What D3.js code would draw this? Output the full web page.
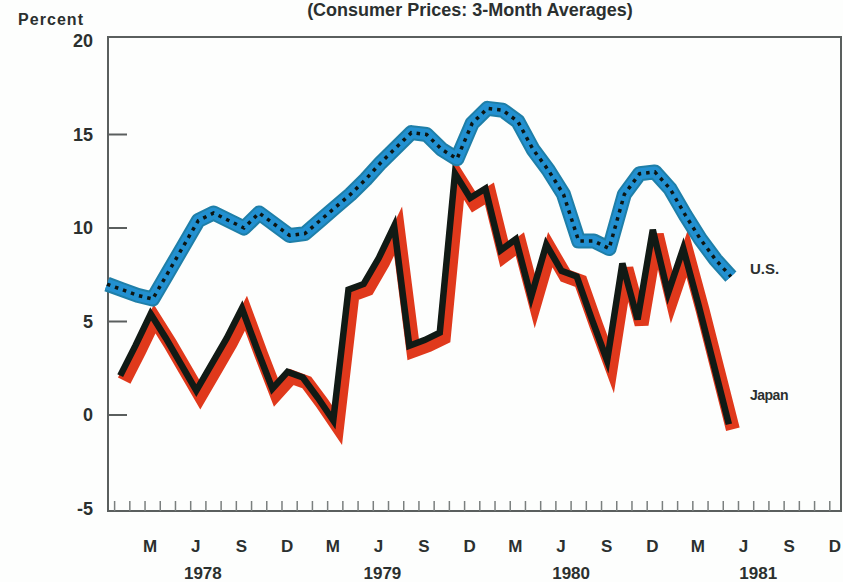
<!DOCTYPE html>
<html>
<head>
<meta charset="utf-8">
<script src="https://cdn.jsdelivr.net/npm/d3@7"></script>
<style>
  body { margin: 0; background: #fdfefd; }
  text { font-family: "Liberation Sans", Arial, sans-serif; font-weight: bold; fill: #2b302f; }
</style>
</head>
<body>
<div id="chart"></div>
<script>
// month index 0 = Dec 1977, monthly points
var usValues = [7.0, 6.7, 6.4, 6.2, 7.6, 9.0, 10.4, 10.8, 10.4, 10.0, 10.8, 10.2, 9.6, 9.7,
                10.4, 11.1, 11.8, 12.6, 13.5, 14.3, 15.1, 15.0, 14.2, 13.7, 15.6, 16.4, 16.3,
                15.7, 14.2, 13.1, 11.8, 9.3, 9.3, 8.9, 11.8, 12.9, 13.0, 12.1, 10.7, 9.4, 8.3, 7.4];
var usStart = 0;
// Japan starts Jan 1978 (index 1)
var japanValues = [2.0, 3.6, 5.3, 4.0, 2.6, 1.2, 2.6, 4.0, 5.6, 3.4, 1.3, 2.2, 1.9, 0.8, -0.4,
                   6.6, 6.9, 8.3, 10.0, 3.6, 3.9, 4.3, 12.8, 11.5, 12.0, 8.7, 9.3, 6.2, 9.0, 7.6,
                   7.3, 5.0, 2.8, 8.0, 5.0, 9.8, 6.4, 8.8, 5.8, 2.6, -0.6];
var japanStart = 1;

var monthLabels = ["M", "J", "S", "D"];
var yearLabels = ["1978", "1979", "1980", "1981"];
var yTicks = [20, 15, 10, 5, 0, -5];

var w = 843, h = 582;
var svg = d3.select("#chart").append("svg")
            .attr("width", w)
            .attr("height", h);

var x = d3.scaleLinear().domain([0, 48.5]).range([107, 845]);
var y = d3.scaleLinear().domain([-5, 20]).range([508.5, 41]);

// title, right at the top edge like the scan
svg.append("text")
   .attr("x", 470).attr("y", 16)
   .attr("text-anchor", "middle")
   .style("font-size", "18px")
   .text("(Consumer Prices: 3-Month Averages)");

svg.append("text")
   .attr("x", 18).attr("y", 25)
   .style("font-size", "16px")
   .attr("textLength", 65)
   .text("Percent");

// frame
var fLeft = 108, fRight = 841, fTop = 37, fBottom = 511;
svg.append("path")
   .attr("d", "M" + fLeft + "," + fBottom + "V" + fTop + "H" + fRight + "V" + fBottom + "Z")
   .attr("fill", "none")
   .attr("stroke", "#5a5f5e")
   .attr("stroke-width", 2);

// y tick labels + inward ticks
svg.selectAll("text.ylab")
   .data(yTicks)
   .enter().append("text")
   .attr("class", "ylab")
   .attr("x", 93)
   .attr("y", function(d) { return y(d); })
   .attr("dy", "0.35em")
   .attr("text-anchor", "end")
   .style("font-size", "18px")
   .text(function(d) { return d < 0 ? "-" + Math.abs(d) : d; });

svg.selectAll("line.ytick")
   .data(yTicks.filter(function(d) { return d > -5 && d < 20; }))
   .enter().append("line")
   .attr("class", "ytick")
   .attr("x1", fLeft).attr("x2", fLeft + 19)
   .attr("y1", function(d) { return y(d); })
   .attr("y2", function(d) { return y(d); })
   .attr("stroke", "#5a5f5e")
   .attr("stroke-width", 2);

// monthly ticks on the bottom
svg.selectAll("line.xtick")
   .data(d3.range(0.5, 48.5, 1))
   .enter().append("line")
   .attr("class", "xtick")
   .attr("x1", function(d) { return x(d); })
   .attr("x2", function(d) { return x(d); })
   .attr("y1", fBottom).attr("y2", fBottom - 10)
   .attr("stroke", "#7a7f7e")
   .attr("stroke-width", 1.5);

// quarter month letters, first at index 3 (Mar 1978)
svg.selectAll("text.mlab")
   .data(d3.range(3, 49, 3))
   .enter().append("text")
   .attr("class", "mlab")
   .attr("x", function(d) { return x(d) - 2.5; })
   .attr("y", 552)
   .attr("text-anchor", "middle")
   .style("font-size", "17px")
   .text(function(d, i) { return monthLabels[i % 4]; });

var yearPos = [6.3, 18.1, 30.5, 42.8];
svg.selectAll("text.year")
   .data(yearLabels)
   .enter().append("text")
   .attr("class", "year")
   .attr("x", function(d, i) { return x(yearPos[i]); })
   .attr("y", 579)
   .attr("text-anchor", "middle")
   .style("font-size", "17px")
   .text(function(d) { return d; });

var line = d3.line()
             .x(function(d) { return x(d.k); })
             .y(function(d) { return y(d.v); });

var us = usValues.map(function(v, i) { return {k: usStart + i, v: v}; });
var jp = japanValues.map(function(v, i) { return {k: japanStart + i, v: v}; });

// Japan: red band with misregistered black core
svg.append("path")
   .datum(jp)
   .attr("d", line)
   .attr("transform", "translate(2,3)")
   .attr("fill", "none")
   .attr("stroke", "#e0391c")
   .attr("stroke-width", 14)
   .attr("stroke-linejoin", "miter");

svg.append("path")
   .datum(jp)
   .attr("d", line)
   .attr("transform", "translate(-2,-2)")
   .attr("fill", "none")
   .attr("stroke", "#111a15")
   .attr("stroke-width", 6.5)
   .attr("stroke-linejoin", "miter");

// US: blue band with dotted black centre
svg.append("path")
   .datum(us)
   .attr("d", line)
   .attr("fill", "none")
   .attr("stroke", "#1f7fa8")
   .attr("stroke-width", 15)
   .attr("stroke-linejoin", "round");

svg.append("path")
   .datum(us)
   .attr("d", line)
   .attr("fill", "none")
   .attr("stroke", "#2290d0")
   .attr("stroke-width", 11)
   .attr("stroke-linejoin", "round");

svg.append("path")
   .datum(us)
   .attr("d", line)
   .attr("fill", "none")
   .attr("stroke", "#0d1512")
   .attr("stroke-width", 3.5)
   .attr("stroke-dasharray", "3.5,5");

svg.append("text")
   .attr("x", 750).attr("y", 274)
   .style("font-size", "15px")
   .text("U.S.");

svg.append("text")
   .attr("x", 750).attr("y", 400)
   .style("font-size", "14px")
   .style("letter-spacing", "-0.5px")
   .text("Japan");
</script>
</body>
</html>
